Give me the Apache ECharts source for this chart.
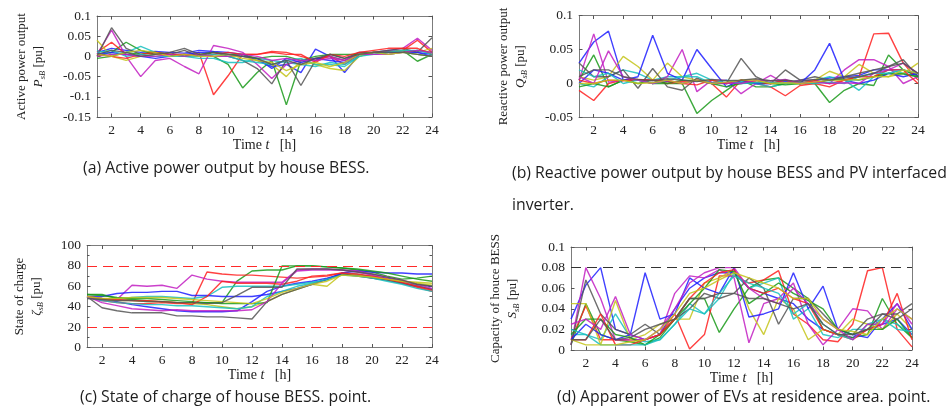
<!DOCTYPE html>
<html>
<head>
<meta charset="utf-8">
<script src="https://cdn.jsdelivr.net/npm/echarts@6/dist/echarts.min.js"></script>
<style>
  html, body { margin: 0; padding: 0; background: #ffffff; }
  #chart { width: 952px; height: 412px; }
</style>
</head>
<body>
<div id="chart"></div>
<script>
// Time axis (hours) and the labelled tick positions
const hours = [1, 2, 3, 4, 5, 6, 7, 8, 9, 10, 11, 12, 13, 14, 15, 16, 17, 18, 19, 20, 21, 22, 23, 24];
const hourTicks = [2, 4, 6, 8, 10, 12, 14, 16, 18, 20, 22, 24];

// Line colours, cycled per house
const lineColors = ['#1f1fff', '#1a9a1a', '#ff2020', '#17bfbf', '#c21fc2', '#c4c41a', '#555555'];

// (a) Active power output of each house BESS [pu]
const pBlue1 = [0.01, 0.02, 0.015, 0.01, 0.012, 0.01, 0.008, 0.015, 0.012, 0.01, 0.005, -0.01, -0.025, -0.02, -0.04, 0.018, 0.0, -0.04, 0.005, 0.01, 0.012, 0.015, 0.01, 0.005];
const pGreen1 = [0.0, 0.01, 0.035, 0.015, 0.005, 0.005, 0.0, 0.005, 0.0, -0.02, -0.078, -0.04, -0.01, -0.12, -0.01, -0.005, 0.0, -0.01, 0.005, 0.01, 0.01, 0.015, -0.012, 0.005];
const pRed1 = [0.01, 0.035, 0.005, 0.0, 0.005, 0.005, 0.0, 0.01, -0.095, -0.048, 0.005, 0.005, 0.012, 0.01, 0.0, -0.01, 0.0, -0.02, 0.005, 0.01, 0.01, 0.015, 0.04, 0.01];
const pCyan1 = [0.015, 0.005, 0.01, 0.025, 0.01, 0.005, 0.0, -0.005, -0.005, -0.015, -0.015, -0.005, -0.01, -0.015, -0.02, -0.025, -0.015, -0.02, 0.0, 0.01, 0.015, 0.01, 0.005, 0.0];
const pMagenta1 = [0.005, 0.065, 0.0, -0.05, -0.01, -0.005, -0.025, -0.043, 0.027, 0.02, 0.01, -0.02, -0.055, -0.02, -0.01, -0.005, 0.0, -0.01, 0.01, 0.01, 0.015, 0.02, 0.045, 0.015];
const pYellow1 = [0.04, 0.0, -0.01, 0.0, 0.005, 0.0, 0.005, 0.005, 0.0, 0.0, 0.0, -0.01, -0.02, -0.05, -0.01, -0.02, -0.03, -0.035, 0.0, 0.01, 0.01, 0.015, 0.01, 0.02];
const pGray1 = [0.0, 0.071, 0.02, 0.005, 0.01, 0.005, 0.015, 0.0, 0.01, 0.0, -0.01, -0.03, -0.068, -0.01, -0.072, -0.01, 0.005, -0.005, 0.01, 0.01, 0.015, 0.02, 0.01, 0.046];
const pBlue2 = [0.005, 0.01, 0.005, 0.0, -0.005, 0.0, 0.005, 0.01, 0.01, 0.005, 0.0, -0.005, -0.03, -0.005, -0.015, -0.005, -0.01, -0.015, 0.005, 0.005, 0.01, 0.01, 0.01, 0.0];
const pGreen2 = [-0.005, 0.0, 0.01, 0.005, 0.01, 0.005, 0.0, 0.005, 0.01, 0.005, 0.005, -0.005, 0.0, 0.0, -0.01, 0.0, 0.005, 0.005, 0.005, 0.01, 0.005, 0.01, 0.015, 0.01];
const pRed2 = [0.005, 0.0, -0.005, 0.005, 0.01, 0.005, 0.005, 0.0, 0.005, 0.01, 0.005, 0.005, 0.01, 0.005, 0.005, -0.015, 0.005, 0.0, 0.01, 0.015, 0.02, 0.02, 0.02, 0.005];
const pCyan2 = [0.01, 0.015, 0.0, 0.005, 0.0, 0.0, 0.0, 0.0, 0.005, 0.0, -0.01, -0.015, -0.02, -0.01, -0.005, -0.02, -0.02, -0.025, 0.0, 0.005, 0.01, 0.015, 0.015, 0.005];
const pMagenta2 = [0.0, 0.005, 0.005, 0.0, 0.0, 0.005, 0.0, 0.005, 0.0, 0.0, 0.005, 0.0, -0.01, -0.005, -0.01, -0.01, -0.005, -0.01, 0.005, 0.005, 0.005, 0.01, 0.015, 0.01];
const pYellow2 = [0.005, 0.0, 0.01, 0.015, 0.01, 0.0, 0.005, 0.0, 0.0, 0.005, -0.005, -0.01, -0.015, -0.035, -0.02, -0.015, -0.025, -0.015, 0.005, 0.01, 0.005, 0.01, 0.005, 0.0];
const pGray2 = [0.005, 0.015, 0.01, 0.0, 0.005, 0.01, 0.02, 0.005, 0.01, 0.005, 0.0, -0.005, -0.02, -0.01, -0.02, -0.005, 0.005, -0.005, 0.005, 0.01, 0.01, 0.01, 0.005, 0.0];

// (b) Reactive power output of each house BESS / PV inverter [pu]
const qBlue1 = [0.03, 0.061, 0.077, 0.005, 0.005, 0.005, 0.003, 0.0, 0.005, 0.002, 0.0, 0.002, 0.0, 0.0, 0.003, 0.0, 0.005, 0.008, 0.01, 0.012, 0.02, 0.02, 0.02, 0.012];
const qGreen1 = [0.005, 0.042, -0.005, 0.005, 0.005, 0.0, 0.0, 0.0, -0.044, -0.025, -0.01, 0.005, -0.005, -0.005, 0.0, 0.0, 0.0, -0.028, -0.01, 0.0, -0.003, 0.042, 0.02, 0.01];
const qRed1 = [-0.01, -0.025, 0.0, 0.005, 0.005, 0.005, 0.0, 0.003, 0.005, 0.0, -0.02, 0.005, 0.0, -0.005, -0.018, -0.003, 0.0, -0.005, 0.005, 0.01, 0.073, 0.074, 0.03, 0.005];
const qCyan1 = [0.0, -0.005, 0.01, 0.02, 0.015, 0.005, 0.01, 0.01, 0.015, 0.005, 0.0, 0.003, 0.0, -0.005, 0.0, 0.005, 0.005, 0.01, 0.005, -0.01, 0.01, 0.02, 0.015, 0.01];
const qMagenta1 = [0.005, 0.073, 0.002, 0.005, 0.005, 0.0, 0.01, 0.05, -0.012, 0.005, 0.005, -0.015, 0.0, 0.012, 0.0, 0.005, 0.005, 0.0, 0.02, 0.035, 0.035, 0.025, 0.0, 0.01];
const qYellow1 = [0.01, 0.005, 0.01, 0.04, 0.025, 0.005, 0.03, 0.01, 0.005, 0.005, 0.0, 0.005, 0.005, 0.0, 0.005, 0.0, 0.005, 0.018, 0.01, 0.028, 0.015, 0.01, 0.015, 0.03];
const qGray1 = [0.03, 0.01, 0.01, 0.02, -0.007, 0.022, -0.005, -0.01, 0.008, 0.0, 0.0, 0.037, 0.01, 0.0, 0.02, 0.005, 0.01, 0.005, 0.01, 0.015, 0.02, 0.025, 0.035, 0.01];
const qBlue2 = [0.0, 0.02, 0.015, 0.005, 0.01, 0.071, 0.015, 0.005, 0.05, 0.022, -0.005, 0.005, 0.0, 0.0, 0.005, 0.0, 0.02, 0.059, 0.005, 0.0, 0.005, 0.015, 0.01, 0.015];
const qGreen2 = [-0.005, 0.0, -0.005, 0.005, 0.0, 0.005, 0.0, 0.005, 0.004, 0.0, -0.005, 0.0, 0.002, 0.0, -0.002, 0.0, 0.001, 0.005, 0.006, 0.005, 0.01, 0.015, 0.014, 0.01];
const qRed2 = [0.005, 0.0, 0.005, 0.004, 0.006, 0.005, 0.004, 0.0, -0.002, 0.005, 0.0, 0.005, 0.002, 0.0, 0.005, 0.0, 0.004, 0.0, 0.005, 0.01, 0.01, 0.02, 0.02, 0.0];
const qCyan2 = [0.02, 0.01, 0.015, 0.0, 0.005, 0.0, 0.005, 0.01, 0.01, 0.0, 0.005, 0.0, 0.001, 0.002, 0.0, 0.001, 0.0, 0.002, 0.0, 0.01, 0.015, 0.015, 0.02, 0.015];
const qMagenta2 = [0.01, 0.0, 0.048, 0.01, 0.005, 0.0, 0.005, 0.0, 0.005, 0.0, 0.001, 0.0, 0.005, 0.004, 0.006, 0.0, 0.002, 0.0, 0.001, 0.0, 0.015, 0.02, 0.03, 0.015];
const qYellow2 = [0.0, 0.0, 0.005, 0.005, 0.0, 0.001, 0.005, 0.0, 0.005, 0.0, 0.002, 0.005, 0.005, 0.0, 0.001, 0.0, 0.002, 0.005, 0.005, 0.006, 0.01, 0.01, 0.02, 0.015];
const qGray2 = [0.01, 0.02, 0.02, 0.01, 0.006, 0.004, 0.007, 0.005, 0.003, 0.006, 0.004, 0.005, 0.007, 0.004, 0.005, 0.003, 0.006, 0.005, 0.008, 0.01, 0.015, 0.025, 0.03, 0.015];

// (c) State of charge of each house BESS [%]
const socBlue1 = [50, 47, 45, 42, 40, 38, 36, 35, 35, 35, 36, 45, 55, 60, 63, 65, 68, 72, 71, 70, 68, 65, 62, 60];
const socGreen1 = [52, 52, 48, 47, 46, 45, 44, 44, 44, 44, 65, 75, 76, 76, 80, 80, 79, 78, 76, 74, 70, 67, 68, 70];
const socRed1 = [50, 46, 44, 43, 43, 44, 43, 43, 74, 72, 71, 71, 70, 69, 68, 69, 70, 73, 71, 68, 66, 63, 59, 55];
const socCyan1 = [50, 48, 47, 49, 50, 50, 49, 48, 50, 59, 60, 60, 60, 60, 62, 64, 66, 73, 72, 69, 66, 63, 61, 57];
const socMagenta1 = [50, 46, 47, 61, 60, 61, 58, 71, 67, 65, 64, 64, 64, 64, 76, 77, 77, 76, 74, 71, 67, 63, 60, 57];
const socYellow1 = [49, 47, 46, 46, 45, 45, 44, 43, 42, 40, 38, 40, 45, 52, 57, 62, 60, 72, 71, 69, 67, 65, 64, 63];
const socGray1 = [50, 39, 36, 34, 34, 34, 31, 31, 30, 30, 29, 28, 45, 52, 57, 62, 67, 72, 70, 68, 66, 63, 60, 57];
const socBlue2 = [50, 50, 53, 54, 54, 55, 55, 51, 51, 50, 50, 50, 52, 55, 58, 62, 67, 73, 75, 74, 73, 73, 72, 72];
const socGreen2 = [52, 51, 49, 48, 48, 47, 46, 45, 44, 43, 43, 43, 44, 80, 80, 80, 79, 78, 77, 75, 73, 70, 67, 65];
const socRed2 = [50, 48, 47, 46, 46, 45, 44, 42, 50, 65, 63, 63, 63, 62, 65, 70, 71, 73, 72, 70, 67, 64, 60, 56];
const socCyan2 = [49, 46, 44, 43, 42, 42, 41, 41, 40, 39, 38, 40, 50, 55, 60, 63, 67, 71, 70, 68, 65, 62, 58, 55];
const socMagenta2 = [50, 44, 41, 38, 37, 36, 37, 36, 36, 36, 36, 37, 45, 63, 75, 76, 76, 76, 75, 72, 69, 66, 62, 58];
const socYellow2 = [50, 48, 48, 49, 49, 49, 48, 47, 46, 45, 44, 43, 48, 54, 58, 62, 65, 71, 70, 69, 67, 65, 63, 61];
const socGray2 = [48, 47, 46, 46, 45, 45, 44, 44, 43, 44, 51, 59, 59, 59, 77, 77, 77, 76, 74, 72, 69, 66, 62, 60];
const socLimits = [20, 80];

// (d) Apparent power (capacity) of each house BESS [pu]
const sBlue1 = [0.03, 0.063, 0.08, 0.02, 0.015, 0.01, 0.015, 0.04, 0.06, 0.07, 0.075, 0.075, 0.06, 0.055, 0.05, 0.045, 0.03, 0.02, 0.015, 0.012, 0.02, 0.025, 0.03, 0.015];
const sGreen1 = [0.005, 0.045, 0.015, 0.01, 0.008, 0.005, 0.012, 0.03, 0.05, 0.05, 0.017, 0.04, 0.06, 0.068, 0.07, 0.06, 0.05, 0.02, 0.015, 0.012, 0.015, 0.05, 0.025, 0.012];
const sRed1 = [0.01, 0.043, 0.01, 0.01, 0.01, 0.01, 0.015, 0.035, 0.001, 0.015, 0.072, 0.072, 0.065, 0.068, 0.077, 0.035, 0.025, 0.01, 0.008, 0.025, 0.077, 0.08, 0.02, 0.003];
const sCyan1 = [0.015, 0.015, 0.01, 0.035, 0.012, 0.008, 0.01, 0.025, 0.045, 0.035, 0.05, 0.075, 0.06, 0.065, 0.07, 0.03, 0.04, 0.015, 0.012, 0.02, 0.02, 0.03, 0.025, 0.015];
const sMagenta1 = [0.005, 0.08, 0.05, 0.01, 0.01, 0.01, 0.015, 0.055, 0.072, 0.07, 0.078, 0.07, 0.007, 0.045, 0.05, 0.065, 0.025, 0.005, 0.02, 0.04, 0.038, 0.02, 0.04, 0.03];
const sYellow1 = [0.045, 0.045, 0.005, 0.048, 0.01, 0.015, 0.025, 0.03, 0.03, 0.065, 0.07, 0.078, 0.04, 0.015, 0.05, 0.04, 0.01, 0.02, 0.015, 0.03, 0.025, 0.02, 0.035, 0.02];
const sGray1 = [0.005, 0.068, 0.035, 0.02, 0.015, 0.025, 0.015, 0.03, 0.04, 0.055, 0.05, 0.055, 0.07, 0.06, 0.025, 0.05, 0.05, 0.035, 0.02, 0.015, 0.03, 0.035, 0.035, 0.045];
const sBlue2 = [0.01, 0.025, 0.015, 0.01, 0.015, 0.075, 0.03, 0.035, 0.07, 0.06, 0.055, 0.08, 0.032, 0.035, 0.04, 0.075, 0.04, 0.062, 0.02, 0.015, 0.012, 0.03, 0.045, 0.02];
const sGreen2 = [0.015, 0.03, 0.03, 0.015, 0.012, 0.005, 0.015, 0.03, 0.045, 0.06, 0.078, 0.076, 0.045, 0.055, 0.065, 0.055, 0.048, 0.04, 0.02, 0.015, 0.02, 0.02, 0.03, 0.012];
const sRed2 = [0.01, 0.01, 0.035, 0.005, 0.005, 0.01, 0.015, 0.03, 0.05, 0.065, 0.075, 0.078, 0.06, 0.055, 0.06, 0.05, 0.045, 0.02, 0.015, 0.01, 0.02, 0.025, 0.055, 0.01];
const sCyan2 = [0.02, 0.015, 0.005, 0.005, 0.005, 0.005, 0.01, 0.025, 0.04, 0.035, 0.055, 0.072, 0.065, 0.06, 0.055, 0.035, 0.045, 0.025, 0.015, 0.01, 0.025, 0.03, 0.02, 0.018];
const sMagenta2 = [0.025, 0.03, 0.02, 0.052, 0.015, 0.01, 0.02, 0.04, 0.065, 0.075, 0.08, 0.08, 0.06, 0.05, 0.045, 0.06, 0.045, 0.03, 0.02, 0.01, 0.025, 0.025, 0.045, 0.025];
const sYellow2 = [0.01, 0.005, 0.005, 0.005, 0.008, 0.01, 0.02, 0.035, 0.055, 0.06, 0.068, 0.075, 0.07, 0.065, 0.06, 0.05, 0.05, 0.03, 0.02, 0.018, 0.015, 0.03, 0.04, 0.03];
const sGray2 = [0.01, 0.01, 0.03, 0.01, 0.012, 0.02, 0.025, 0.03, 0.05, 0.05, 0.055, 0.055, 0.05, 0.05, 0.045, 0.04, 0.045, 0.025, 0.015, 0.015, 0.02, 0.035, 0.03, 0.04];
const sLimit = [0.08];

const activeSeries = [pBlue1, pGreen1, pRed1, pCyan1, pMagenta1, pYellow1, pGray1, pBlue2, pGreen2, pRed2, pCyan2, pMagenta2, pYellow2, pGray2];
const reactiveSeries = [qBlue1, qGreen1, qRed1, qCyan1, qMagenta1, qYellow1, qGray1, qBlue2, qGreen2, qRed2, qCyan2, qMagenta2, qYellow2, qGray2];
const socSeries = [socBlue1, socGreen1, socRed1, socCyan1, socMagenta1, socYellow1, socGray1, socBlue2, socGreen2, socRed2, socCyan2, socMagenta2, socYellow2, socGray2];
const apparentSeries = [sBlue1, sGreen1, sRed1, sCyan1, sMagenta1, sYellow1, sGray1, sBlue2, sGreen2, sRed2, sCyan2, sMagenta2, sYellow2, sGray2];

// Panel setup
const SERIF = '"Liberation Serif", "DejaVu Serif", serif';
const frameColor = '#7c7c7c';
const panels = [
  { grid: { left: 97, top: 16, width: 335, height: 101 }, lines: activeSeries, min: -0.15, max: 0.1, interval: 0.05,
    title: 'Active power output', sym: 'P', nameGap: 50 },
  { grid: { left: 579, top: 15.5, width: 339, height: 102 }, lines: reactiveSeries, min: -0.05, max: 0.1, interval: 0.05,
    title: 'Reactive power output', sym: 'Q', nameGap: 50 },
  { grid: { left: 87, top: 245.5, width: 345, height: 102 }, lines: socSeries, min: 0, max: 100, interval: 20,
    title: 'State of charge', sym: 'ζ', nameGap: 42, minor: true,
    limits: socLimits, limitColor: '#ff2a2a' },
  { grid: { left: 571, top: 247, width: 341, height: 103 }, lines: apparentSeries, min: 0, max: 0.1, interval: 0.02,
    title: 'Capacity of houce BESS', sym: 'S', nameGap: 50,
    limits: sLimit, limitColor: '#333333' }
];

const richName = {
  t: { fontFamily: SERIF, fontSize: 13, color: '#222', lineHeight: 17 },
  i: { fontFamily: SERIF, fontSize: 13, fontStyle: 'italic', color: '#222', lineHeight: 17 },
  s: { fontFamily: SERIF, fontSize: 8.5, fontStyle: 'italic', color: '#222', lineHeight: 17, verticalAlign: 'bottom' }
};
const richTime = {
  t: { fontFamily: SERIF, fontSize: 14, color: '#222' },
  i: { fontFamily: SERIF, fontSize: 14, fontStyle: 'italic', color: '#222' }
};

const grids = [], xAxes = [], yAxes = [], series = [];

panels.forEach((p, g) => {
  grids.push(p.grid);
  const line = { show: true, onZero: false, lineStyle: { color: frameColor, width: 1 } };
  const tick = { show: true, inside: true, length: 3.5, lineStyle: { color: '#555', width: 1 } };
  // bottom + top time axes
  xAxes.push({
    gridIndex: g, type: 'value', min: 1, max: 24, position: 'bottom',
    axisLine: line,
    axisTick: Object.assign({}, tick, { customValues: hourTicks }),
    axisLabel: { customValues: hourTicks, fontFamily: SERIF, fontSize: 13.5, color: '#222', margin: 6 },
    splitLine: { show: false },
    name: '{t|Time }{i|t}{t|   [h]}', nameLocation: 'middle', nameGap: 18,
    nameTextStyle: { rich: richTime }
  });
  xAxes.push({
    gridIndex: g, type: 'value', min: 1, max: 24, position: 'top',
    axisLine: line,
    axisTick: Object.assign({}, tick, { customValues: hourTicks }),
    axisLabel: { show: false }, splitLine: { show: false }
  });
  // left + right value axes
  yAxes.push({
    gridIndex: g, type: 'value', min: p.min, max: p.max, interval: p.interval, position: 'left',
    axisLine: line, axisTick: tick,
    minorTick: p.minor ? { show: true, splitNumber: 2, length: 2.5, lineStyle: { color: '#555' } } : { show: false },
    axisLabel: { fontFamily: SERIF, fontSize: 13.5, color: '#222', margin: 6 },
    splitLine: { show: false },
    name: '{t|' + p.title + '}\n{i|' + p.sym + '}{s|sB}{t| [pu]}', nameLocation: 'middle', nameRotate: 90,
    nameGap: p.nameGap, nameTextStyle: { rich: richName, align: 'center' }
  });
  yAxes.push({
    gridIndex: g, type: 'value', min: p.min, max: p.max, interval: p.interval, position: 'right',
    axisLine: line, axisTick: tick,
    minorTick: p.minor ? { show: true, splitNumber: 2, length: 2.5, lineStyle: { color: '#555' } } : { show: false },
    axisLabel: { show: false }, splitLine: { show: false }
  });

  if (p.limits) {
    series.push({
      type: 'line', xAxisIndex: 2 * g, yAxisIndex: 2 * g, data: [], silent: true,
      markLine: {
        silent: true, symbol: 'none', label: { show: false },
        lineStyle: { color: p.limitColor, type: [10, 6], width: 1.2 },
        data: p.limits.map(v => ({ yAxis: v }))
      }
    });
  }

  p.lines.forEach((vals, k) => {
    series.push({
      type: 'line', xAxisIndex: 2 * g, yAxisIndex: 2 * g,
      data: hours.map((h, i) => [h, vals[i]]),
      showSymbol: false, symbol: 'none', silent: true, animation: false,
      lineStyle: { color: lineColors[k % lineColors.length], width: 1.4, opacity: 0.85 }
    });
  });
});

// Sub-figure captions
const CAP = '"Open Sans", "Noto Sans", sans-serif';
const captions = [
  { text: '(a) Active power output by house BESS.', x: 83, y: 168 },
  { text: '(b) Reactive power output by house BESS and PV interfaced', x: 512, y: 173 },
  { text: 'inverter.', x: 512, y: 205 },
  { text: '(c) State of charge of house BESS. point.', x: 80, y: 397 },
  { text: '(d) Apparent power of EVs at residence area. point.', x: 557, y: 397 }
];

const chart = echarts.init(document.getElementById('chart'), null, { renderer: 'canvas' });
chart.setOption({
  backgroundColor: '#ffffff',
  animation: false,
  grid: grids,
  xAxis: xAxes,
  yAxis: yAxes,
  series: series,
  graphic: captions.map(c => ({
    type: 'text', x: c.x, y: c.y, silent: true,
    style: { text: c.text, fontFamily: CAP, fontSize: 15.8, fill: '#1e1e1e', verticalAlign: 'middle', align: 'left' }
  }))
});
</script>
</body>
</html>
